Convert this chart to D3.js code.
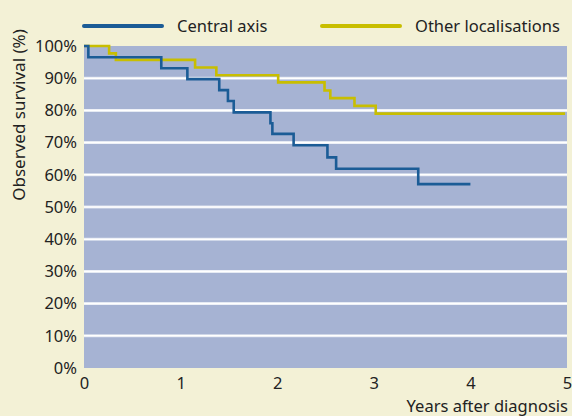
<!DOCTYPE html>
<html><head><meta charset="utf-8">
<script src="https://cdn.jsdelivr.net/npm/d3@7"></script>
<style>
html,body{margin:0;padding:0;background:#f3f1d6;}
svg{display:block;}
text{font-family:"Noto Sans",sans-serif;fill:#222;}
</style></head>
<body><svg id="c" width="572" height="416"></svg>
<script>
const seriesNames = ["Central axis", "Other localisations"];
const centralTimes = [0, 0.045, 0.80, 1.07, 1.40, 1.49, 1.55, 1.93, 1.95, 2.17, 2.52, 2.61, 3.46, 4.0];
const centralSurv  = [100, 96.5, 93.1, 89.7, 86.3, 82.9, 79.4, 76.0, 72.7, 69.2, 65.4, 61.9, 57.1, 57.1];
const otherTimes = [0, 0.26, 0.33, 1.15, 1.37, 2.01, 2.49, 2.55, 2.80, 3.02, 4.98];
const otherSurv  = [100, 97.7, 95.7, 93.3, 90.9, 88.7, 86.2, 83.8, 81.4, 79.0, 79.0];
const xTicks = [0, 1, 2, 3, 4, 5];
const yTicks = [0, 10, 20, 30, 40, 50, 60, 70, 80, 90, 100];
const colors = ["#1b5c96", "#c8be00"];

const svg = d3.select("#c");
const m = {left: 84, top: 46, right: 5, bottom: 48};
const W = 572 - m.left - m.right, H = 416 - m.top - m.bottom;
const x = d3.scaleLinear().domain([0, 5]).range([0, W]);
const y = d3.scaleLinear().domain([0, 100]).range([H, 0]);
const g = svg.append("g").attr("transform", `translate(${m.left},${m.top})`);

g.append("rect").attr("width", W).attr("height", H).attr("fill", "#a6b3d3");

// gridlines
g.selectAll("line.grid").data(yTicks.filter(d => d > 0 && d < 100)).join("line")
  .attr("x1", 0).attr("x2", W).attr("y1", d => y(d)).attr("y2", d => y(d))
  .attr("stroke", "#dde3ef").attr("stroke-width", 3);
g.selectAll("line.grid2").data(yTicks.filter(d => d > 0 && d < 100)).join("line")
  .attr("x1", 0).attr("x2", W).attr("y1", d => y(d)).attr("y2", d => y(d))
  .attr("stroke", "#ffffff").attr("stroke-width", 1.6);

// axes
const yAxis = d3.axisLeft(y).tickValues(yTicks).tickFormat(d => d + "%").tickSize(0).tickPadding(7);
const ya = g.append("g").call(yAxis);
ya.select(".domain").remove();
ya.selectAll("text").style("font-size", "16.5px").style("font-family", "Noto Sans").attr("fill", "#222");

const xAxis = d3.axisBottom(x).tickValues(xTicks).tickFormat(d3.format("d")).tickSize(0).tickPadding(9);
const xa = g.append("g").attr("transform", `translate(0,${H})`).call(xAxis);
xa.select(".domain").remove();
xa.selectAll("text").style("font-size", "16.5px").style("font-family", "Noto Sans").attr("fill", "#222");

svg.append("text").attr("x", 568).attr("y", 412).attr("text-anchor", "end")
  .style("font-size", "16.5px").text("Years after diagnosis");
svg.append("text").attr("transform", "translate(25,115) rotate(-90)").attr("text-anchor", "middle")
  .style("font-size", "17px").text("Observed survival (%)");

// curves
const line = d3.line().x(d => x(d[0])).y(d => y(d[1])).curve(d3.curveStepAfter);
const series = [
  d3.zip(centralTimes, centralSurv),
  d3.zip(otherTimes, otherSurv)
];
[1, 0].forEach(i => {
  g.append("path").datum(series[i]).attr("d", line).attr("fill", "none")
    .attr("stroke", colors[i]).attr("stroke-width", 2.6);
});

// legend
const legX = [84, 322], legLen = 78;
seriesNames.forEach((n, i) => {
  svg.append("line").attr("x1", legX[i]).attr("x2", legX[i] + legLen).attr("y1", 26).attr("y2", 26)
    .attr("stroke", colors[i]).attr("stroke-width", 4).attr("stroke-linecap", "round");
  svg.append("text").attr("x", legX[i] + 93).attr("y", 32).style("font-size", "16.5px").text(n);
});
</script></body></html>
